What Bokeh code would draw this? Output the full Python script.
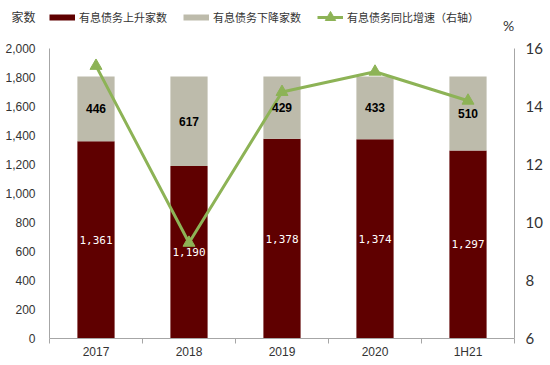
from bokeh.plotting import figure
from bokeh.models import (Range1d, LinearAxis, FixedTicker, Legend, LegendItem,
                          Label, ColumnDataSource, NumeralTickFormatter)
from bokeh.core.properties import value
from bokeh.embed import file_html
from bokeh.resources import INLINE

# ---- data ----
categories = ["2017", "2018", "2019", "2020", "1H21"]
rising = [1361, 1190, 1378, 1374, 1297]      # 有息债务上升家数
falling = [446, 617, 429, 433, 510]          # 有息债务下降家数
growth = [15.4, 9.3, 14.5, 15.2, 14.2]       # 有息债务同比增速（右轴）, %
left_ticks = [0, 200, 400, 600, 800, 1000, 1200, 1400, 1600, 1800, 2000]
right_ticks = [6, 8, 10, 12, 14, 16]
left_title = "家数"
right_title = "%"

DARK = "#5F0000"
GRAY = "#BDBBAB"
GREEN = "#8DB356"
AXIS = "#A6A6A6"
TXT = "#333333"

# layout: frame spans from canvas top (0) to 338 px; the axes run 48..338 px
FRAME_H, AX_H = 338, 290
L_MIN, L_MAX = 0, 2000
R_MIN, R_MAX = 6, 16
l_top = L_MIN + (L_MAX - L_MIN) * FRAME_H / AX_H
r_top = R_MIN + (R_MAX - R_MIN) * FRAME_H / AX_H
title_pos = L_MAX + (L_MAX - L_MIN) * 31 / AX_H   # 31 px above the 2,000 tick

xs = list(range(len(categories)))
totals = [r + f for r, f in zip(rising, falling)]

src = ColumnDataSource(dict(
    x=xs, rising=rising, falling=falling, total=totals, growth=growth,
    rise_mid=[r / 2 for r in rising],
    fall_mid=[r + f / 2 for r, f in zip(rising, falling)],
    rise_lbl=["{:,}".format(v) for v in rising],
    fall_lbl=["{:,}".format(v) for v in falling],
))

p = figure(width=548, height=363, output_backend="svg", toolbar_location=None,
           x_range=Range1d(-0.5, len(categories) - 0.5), y_range=Range1d(L_MIN, l_top),
           min_border_left=49, min_border_right=34, min_border_top=0,
           min_border_bottom=25)
p.extra_y_ranges = {"right": Range1d(R_MIN, r_top), "hidden": Range1d(1e7, 2e7)}
p.outline_line_color = None
p.xgrid.visible = False
p.ygrid.visible = False
p.background_fill_color = "white"
p.border_fill_color = "white"

# bars
b1 = p.vbar(x="x", bottom=0, top="rising", width=0.4, source=src,
            fill_color=DARK, line_color=None)
b2 = p.vbar(x="x", bottom="rising", top="total", width=0.4, source=src,
            fill_color=GRAY, line_color=None)

# line
ln = p.line(x="x", y="growth", source=src, y_range_name="right",
            line_color=GREEN, line_width=3)
mk = p.scatter(x="x", y="growth", source=src, y_range_name="right",
               marker="triangle", size=12, fill_color=GREEN, line_color=GREEN)

# data labels
p.text(x="x", y="rise_mid", text="rise_lbl", source=src, text_align="center",
       text_baseline="middle", text_color="white",
       text_font=value("DejaVu Sans Mono"), text_font_size="11px")
p.text(x="x", y="fall_mid", text="fall_lbl", source=src, text_align="center",
       text_baseline="middle", text_color="black",
       text_font=value("Liberation Sans Narrow, Liberation Sans"),
       text_font_size="12px", text_font_style="bold")

# x axis
xa = p.xaxis[0]
xa.ticker = FixedTicker(ticks=xs, minor_ticks=[i - 0.5 for i in range(len(categories) + 1)])
xa.major_label_overrides = {i: c for i, c in zip(xs, categories)}
xa.major_tick_out = 0
xa.major_tick_in = 0
xa.minor_tick_out = 5
xa.minor_tick_in = 0
xa.minor_tick_line_color = AXIS
xa.axis_line_color = AXIS
xa.major_label_standoff = 1
xa.major_label_text_font = "Liberation Sans"
xa.major_label_text_font_size = "12px"
xa.major_label_text_color = TXT

# left axis (its title "家数" sits as a label above the 2,000 tick)
ya = p.yaxis[0]
ya.bounds = (L_MIN, L_MAX)
ya.ticker = FixedTicker(ticks=left_ticks + [title_pos])
ya.formatter = NumeralTickFormatter(format="0,0")
ya.major_label_overrides = {title_pos: left_title}
ya.major_tick_out = 0
ya.major_tick_in = 0
ya.minor_tick_line_color = None
ya.axis_line_color = AXIS
ya.major_label_standoff = 14
ya.major_label_text_font = "Liberation Sans, Noto Sans CJK SC"
ya.major_label_text_font_size = "12px"
ya.major_label_text_color = TXT

# right axis
ra = LinearAxis(y_range_name="right", ticker=FixedTicker(ticks=right_ticks),
                bounds=(R_MIN, R_MAX))
ra.major_tick_out = 0
ra.major_tick_in = 0
ra.minor_tick_line_color = None
ra.axis_line_color = AXIS
ra.major_label_standoff = 11
ra.major_label_text_font = "Lato"
ra.major_label_text_font_size = "15px"
ra.major_label_text_color = TXT
p.add_layout(ra, "right")

# legend swatches: thick lines drawn on an off-screen range (only the legend shows them)
s1 = p.line(x="x", y="rising", source=src, y_range_name="hidden",
            line_color=DARK, line_width=6, line_cap="butt")
s2 = p.line(x="x", y="falling", source=src, y_range_name="hidden",
            line_color=GRAY, line_width=6, line_cap="butt")
legend = Legend(items=[
    LegendItem(label="有息债务上升家数", renderers=[s1]),
    LegendItem(label="有息债务下降家数", renderers=[s2]),
    LegendItem(label="有息债务同比增速（右轴）", renderers=[ln, mk]),
], orientation="horizontal", location="top_left", padding=0, margin=0,
    spacing=16, glyph_width=26, glyph_height=34, label_height=34,
    label_standoff=4, label_text_font="Noto Sans CJK SC",
    label_text_font_size="11px", label_text_color=TXT,
    border_line_color=None, background_fill_alpha=0)
p.add_layout(legend)

p.add_layout(Label(x=459, y=313, x_units="screen", y_units="screen", text=right_title,
                   text_align="center", text_baseline="middle",
                   text_font="Lato", text_font_size="14px", text_color=TXT))

open("out.html", "w").write(file_html(p, INLINE))
